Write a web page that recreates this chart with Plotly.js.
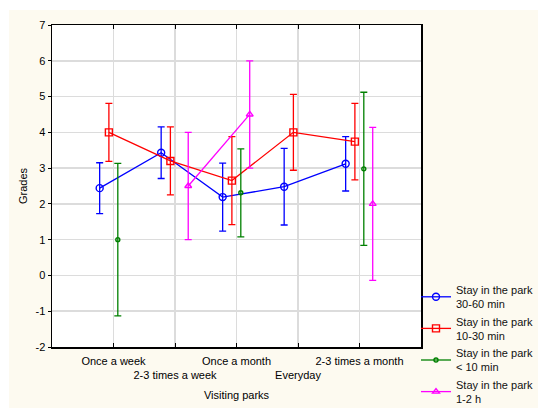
<!DOCTYPE html>
<html>
<head>
<meta charset="utf-8">
<script src="https://cdn.plot.ly/plotly-3.0.1.min.js"></script>
<style>
  html, body { margin: 0; padding: 0; background: #ffffff; }
  #chart { position: absolute; left: 9px; top: 10px; width: 529px; height: 398px; }
</style>
</head>
<body>
<div id="chart"></div>
<script>
// categories along the x axis (staggered labels: every second one on a lower row)
const categories = ['Once a week', '2-3 times a week', 'Once a month', 'Everyday', '2-3 times a month'];

// y ticks, written with a plain hyphen like the original
const gradeTicks = [-2, -1, 0, 1, 2, 3, 4, 5, 6, 7];
const gradeTickText = ['-2', '-1', '0', '1', '2', '3', '4', '5', '6', '7'];

// mean grades and error half-widths per stay duration
const stay3060 = [2.44, 3.43, 2.19, 2.48, 3.12];
const stay3060Err = [0.71, 0.72, 0.95, 1.07, 0.76];

const stay1030 = [4.0, 3.2, 2.65, 4.0, 3.74];
const stay1030Err = [0.81, 0.95, 1.23, 1.06, 1.07];

const stayUnder10 = [1.0, null, 2.31, null, 2.98];
const stayUnder10Err = [2.13, null, 1.23, null, 2.14];

const stay12h = [null, 2.5, 4.5, null, 2.0];
const stay12hErr = [null, 1.5, 1.5, null, 2.14];

const seriesNames = [
  'Stay in the park<br>30-60 min',
  'Stay in the park<br>10-30 min',
  'Stay in the park<br>< 10 min',
  'Stay in the park<br>1-2 h',
];

const FONT = 'Liberation Sans, Arial, sans-serif';

// style for each series: colour, marker, small horizontal shift inside a category
const seriesStyle = [
  { color: '#0000ff', symbol: 'circle-open', size: 7, shift: -0.225 },
  { color: '#ff0000', symbol: 'square-open', size: 7, shift: -0.075 },
  { color: '#008000', symbol: 'circle-open', size: 4, shift: 0.07 },
  { color: '#ff00ff', symbol: 'triangle-up-open', size: 6, shift: 0.215 },
];

const seriesValues = [stay3060, stay1030, stayUnder10, stay12h];
const seriesErrors = [stay3060Err, stay1030Err, stayUnder10Err, stay12hErr];

const traces = seriesValues.map((values, i) => {
  const style = seriesStyle[i];
  return {
    type: 'scatter',
    mode: 'lines+markers',
    name: seriesNames[i],
    x: categories.map((_, idx) => idx + style.shift),
    y: values,
    connectgaps: false,
    line: { color: style.color, width: 1.3 },
    marker: { symbol: style.symbol, size: style.size, color: style.color, line: { color: style.color, width: 1.4 } },
    error_y: { type: 'data', array: seriesErrors[i], visible: true, color: style.color, thickness: 1.3, width: 3.5 },
    hoverinfo: 'skip',
  };
});

// staggered tick labels
const tickText = categories.map((label, idx) => (idx % 2 === 1 ? '<br>' + label : label));

const layout = {
  width: 529,
  height: 398,
  margin: { l: 43, r: 117, t: 15, b: 61, autoexpand: false },
  paper_bgcolor: '#fdfaf0',
  plot_bgcolor: '#ffffff',
  font: { family: FONT, size: 11, color: '#000000' },
  showlegend: true,
  legend: {
    x: (407 - 43) / 369,
    xanchor: 'left',
    y: 1 - (266 - 15) / 322,
    yanchor: 'top',
    bgcolor: 'rgba(0,0,0,0)',
    font: { family: FONT, size: 11, color: '#111111' },
    tracegroupgap: 0,
  },
  xaxis: {
    range: [-1, 5],
    tickmode: 'array',
    tickvals: categories.map((_, idx) => idx),
    ticktext: tickText,
    tickangle: 0,
    ticks: 'inside',
    ticklen: 4,
    tickcolor: '#000000',
    ticklabelstandoff: 3,
    showline: true,
    linecolor: '#000000',
    linewidth: 1.5,
    mirror: 'ticks',
    showgrid: true,
    gridcolor: '#dcdcdc',
    gridwidth: 1.5,
    zeroline: false,
    fixedrange: true,
    title: { text: 'Visiting parks', font: { family: FONT, size: 11, color: '#000000' }, standoff: 11 },
  },
  yaxis: {
    range: [-2, 7],
    tickmode: 'array',
    tickvals: gradeTicks,
    ticktext: gradeTickText,
    ticks: 'outside',
    ticklen: 3,
    tickcolor: '#000000',
    showline: true,
    linecolor: '#000000',
    linewidth: 1.5,
    mirror: true,
    showgrid: true,
    gridcolor: '#dcdcdc',
    gridwidth: 1.5,
    zeroline: false,
    fixedrange: true,
    title: { text: 'Grades', font: { family: FONT, size: 11, color: '#000000' }, standoff: 5 },
  },
  yaxis2: {
    overlaying: 'y',
    side: 'right',
    range: [-2, 7],
    tickmode: 'array',
    tickvals: gradeTicks,
    ticks: 'inside',
    ticklen: 3,
    tickcolor: '#000000',
    showticklabels: false,
    showgrid: false,
    zeroline: false,
    showline: false,
    fixedrange: true,
  },
};

const config = { displayModeBar: false, staticPlot: true, responsive: false };

Plotly.newPlot('chart', traces, layout, config);
</script>
</body>
</html>
